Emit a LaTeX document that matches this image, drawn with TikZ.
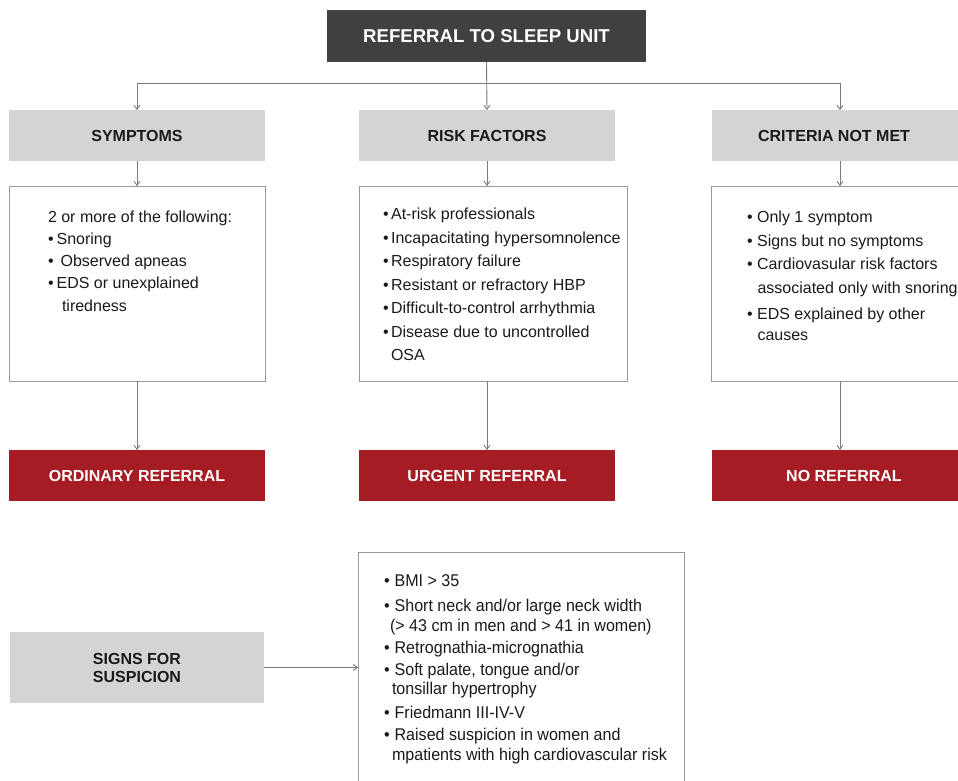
\documentclass[tikz,border=0pt]{standalone}
\usepackage{fontspec}
\setmainfont{Liberation Sans}
\newfontfamily\condensed[FakeStretch=0.945]{Liberation Sans}
\usetikzlibrary{arrows.meta}
\definecolor{titlegray}{HTML}{404040}
\definecolor{headgray}{HTML}{D4D4D4}
\definecolor{outred}{HTML}{A51C24}
\definecolor{linegray}{HTML}{7A7A7A}
\definecolor{bordergray}{HTML}{999999}
\definecolor{txt}{HTML}{1A1A1A}
\begin{document}
\begin{tikzpicture}[x=1pt,y=-1pt,
  titlebox/.style={rectangle, inner sep=0, outer sep=0, fill=titlegray, text=white,
    font=\bfseries\fontsize{18.6}{22}\selectfont, minimum width=319pt, minimum height=52pt},
  headbox/.style={rectangle, inner sep=0, outer sep=0, fill=headgray, text=txt,
    font=\bfseries\fontsize{16}{18}\selectfont, minimum width=256pt, minimum height=51pt},
  outbox/.style={rectangle, inner sep=0, outer sep=0, fill=outred, text=white,
    font=\bfseries\fontsize{16}{18}\selectfont, minimum width=256pt, minimum height=51pt},
  panel/.style={rectangle, inner sep=0, outer sep=0, draw=bordergray, line width=0.9pt, fill=white},
  bodytext/.style={anchor=base west, inner sep=0, outer sep=0, text=txt},
  conn/.style={draw=linegray, line width=0.9pt, -{Straight Barb[length=4pt,width=6pt]}}
]
\useasboundingbox (0,0) rectangle (958,780);
\clip (0,0) rectangle (958,780);

% top
\node[titlebox] (title) at (486.5,36) {REFERRAL TO SLEEP UNIT};

% headings
\node[headbox] (sym) at (137,135.5) {SYMPTOMS};
\node[headbox] (risk) at (487,135.5) {RISK FACTORS};
\node[headbox] (crit) at (840,135.5) {\hspace*{-12pt}CRITERIA NOT MET};

% panels
\node[panel, minimum width=256pt, minimum height=195pt] (symP) at (137,283.5) {};
\node[panel, minimum width=268pt, minimum height=195pt] (riskP) at (493,283.5) {};
\node[panel, minimum width=269pt, minimum height=195pt] (critP) at (845.5,283.5) {};

% outcomes
\node[outbox] (ord) at (137,475.5) {ORDINARY REFERRAL};
\node[outbox] (urg) at (487,475.5) {URGENT REFERRAL};
\node[outbox] (nor) at (840,475.5) {\hspace*{8pt}NO REFERRAL};

% bottom
\node[headbox, minimum width=254pt, minimum height=71pt, align=center,
  font=\bfseries\fontsize{16}{18}\selectfont] (signs) at (137,667.5) {SIGNS FOR\\SUSPICION};
\node[panel, minimum width=326pt, minimum height=248pt] (signsP) at (521,676) {};

% texts
\node[bodytext] (symT) at (48,222) {\parbox[t]{210pt}{\raggedright\fontsize{16}{22.3}\selectfont
2 or more of the following:\\
\textbullet\hspace{3pt}Snoring\\
\textbullet\hspace{7pt}Observed apneas\\
\textbullet\hspace{3pt}EDS or unexplained\\
\hspace*{14pt}tiredness}};

\node[bodytext] (riskT) at (383,219.5) {\parbox[t]{250pt}{\raggedright\fontsize{16}{23.5}\selectfont
\textbullet\hspace{2.5pt}At-risk professionals\\
\textbullet\hspace{2.5pt}Incapacitating hypersomnolence\\
\textbullet\hspace{2.5pt}Respiratory failure\\
\textbullet\hspace{2.5pt}Resistant or refractory HBP\\
\textbullet\hspace{2.5pt}Difficult-to-control arrhythmia\\
\textbullet\hspace{2.5pt}Disease due to uncontrolled\\
\hspace*{8pt}OSA}};

\node[bodytext] (critT) at (747,222.5) {\parbox[t]{250pt}{\raggedright\fontsize{16}{23.5}\selectfont
\textbullet\hspace{4.5pt}Only 1 symptom\\
\textbullet\hspace{4.5pt}Signs but no symptoms\\
\textbullet\hspace{4.5pt}Cardiovasular risk factors\\
\hspace*{10.5pt}associated only with snoring\\[2.5pt]
\textbullet\hspace{4.5pt}EDS explained by other\\[-2.5pt]
\hspace*{10.5pt}causes}};

\node[bodytext] (signsT) at (384,586.5) {\parbox[t]{300pt}{\raggedright\condensed\fontsize{17}{19.5}\selectfont
\textbullet\hspace{5pt}BMI > 35\\[5.5pt]
\textbullet\hspace{5pt}Short neck and/or large neck width\\
\hspace*{6pt}(> 43 cm in men and > 41 in women)\\[2.5pt]
\textbullet\hspace{5pt}Retrognathia-micrognathia\\[2.5pt]
\textbullet\hspace{5pt}Soft palate, tongue and/or\\
\hspace*{8pt}tonsillar hypertrophy\\[4.5pt]
\textbullet\hspace{5pt}Friedmann III-IV-V\\[2.5pt]
\textbullet\hspace{5pt}Raised suspicion in women and\\
\hspace*{8pt}mpatients with high cardiovascular risk}};

% connectors
\coordinate (jn) at (486.5,83);
\draw[conn] (title.south) -- (risk.north);
\draw[conn] (jn) -| (sym.north);
\draw[conn] (jn) -| (crit.north);
\draw[conn] (sym.south) -- (symP.north);
\draw[conn] (risk.south) -- (risk.south |- riskP.north);
\draw[conn] (crit.south) -- (crit.south |- critP.north);
\draw[conn] (symP.south) -- (ord.north);
\draw[conn] (riskP.south -| urg.north) -- (urg.north);
\draw[conn] (critP.south -| nor.north) -- (nor.north);
\draw[conn] (signs.east) -- (signs.east -| signsP.west);
\end{tikzpicture}
\end{document}
